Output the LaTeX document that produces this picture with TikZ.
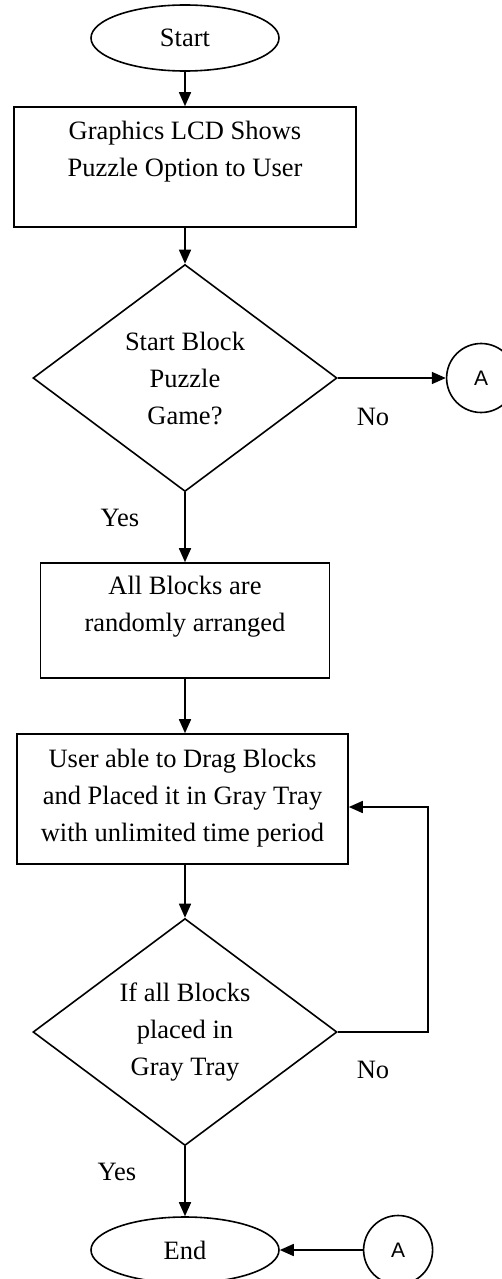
\documentclass[tikz,border=0pt]{standalone}
\usepackage{fontspec}
\setmainfont{Liberation Serif}
\newfontfamily\connfont{Liberation Sans}
\usepackage{tikz}
\usetikzlibrary{shapes.geometric}
\usetikzlibrary{arrows.meta}
\usetikzlibrary{positioning}

\begin{document}
\begin{tikzpicture}[x=1pt,y=-1pt,line width=1.6pt,
  every node/.style={font=\fontsize{26.5}{37}\selectfont,align=center,inner sep=0pt},
  term/.style={draw,ellipse,minimum width=188pt,minimum height=66pt},
  proc/.style={draw,rectangle},
  decide/.style={draw,diamond,aspect=1.34,minimum width=304pt,minimum height=227pt},
  conn/.style={draw,circle,minimum size=69pt,font=\connfont\fontsize{21}{25}\selectfont},
  flow/.style={-{Triangle[length=14pt,width=12pt]}}]
  \clip (0,0) rectangle (502,1279);

  \node[term] (start) at (185,38) {Start};
  \node[proc,minimum width=342pt,minimum height=120pt,text depth=37pt] (show) at (185,167) {Graphics LCD Shows\\Puzzle Option to User};
  \node[decide] (puzzle) at (185,378) {Start Block\\Puzzle\\Game?};
  \node[conn,right=108pt of puzzle] (toA) {A};

  \node[proc,minimum width=289pt,minimum height=115pt,text depth=34pt] (arrange) at (185,620.5) {All Blocks are\\randomly arranged};
  \node[proc,minimum width=331pt,minimum height=130pt,text depth=8pt] (drag) at (182.5,799) {User able to Drag Blocks\\and Placed it in Gray Tray\\with unlimited time period};
  \node[decide] (check) at (185,1032) {If all Blocks\\placed in\\Gray Tray};

  \node[term] (stop) at (185,1250) {End};
  \node[conn,right=83pt of stop] (fromA) {A};

  \node (no1) at (373,417) {No};
  \node (yes1) at (120,518) {Yes};
  \node (no2) at (373,1070) {No};
  \node (yes2) at (117,1172) {Yes};
  \coordinate (loop) at (428,807);

  \draw[flow] (start) -- (show);
  \draw[flow] (show) -- (puzzle);
  \draw[flow] (puzzle) -- (toA);
  \draw[flow] (puzzle) -- (arrange);
  \draw[flow] (arrange) -- (arrange |- drag.north);
  \draw[flow] (drag.south -| check.north) -- (check);
  \draw[flow] (check.east) -| (loop) -- (loop -| drag.east);
  \draw[flow] (check) -- (stop);
  \draw[flow] (fromA) -- (stop);
\end{tikzpicture}
\end{document}
